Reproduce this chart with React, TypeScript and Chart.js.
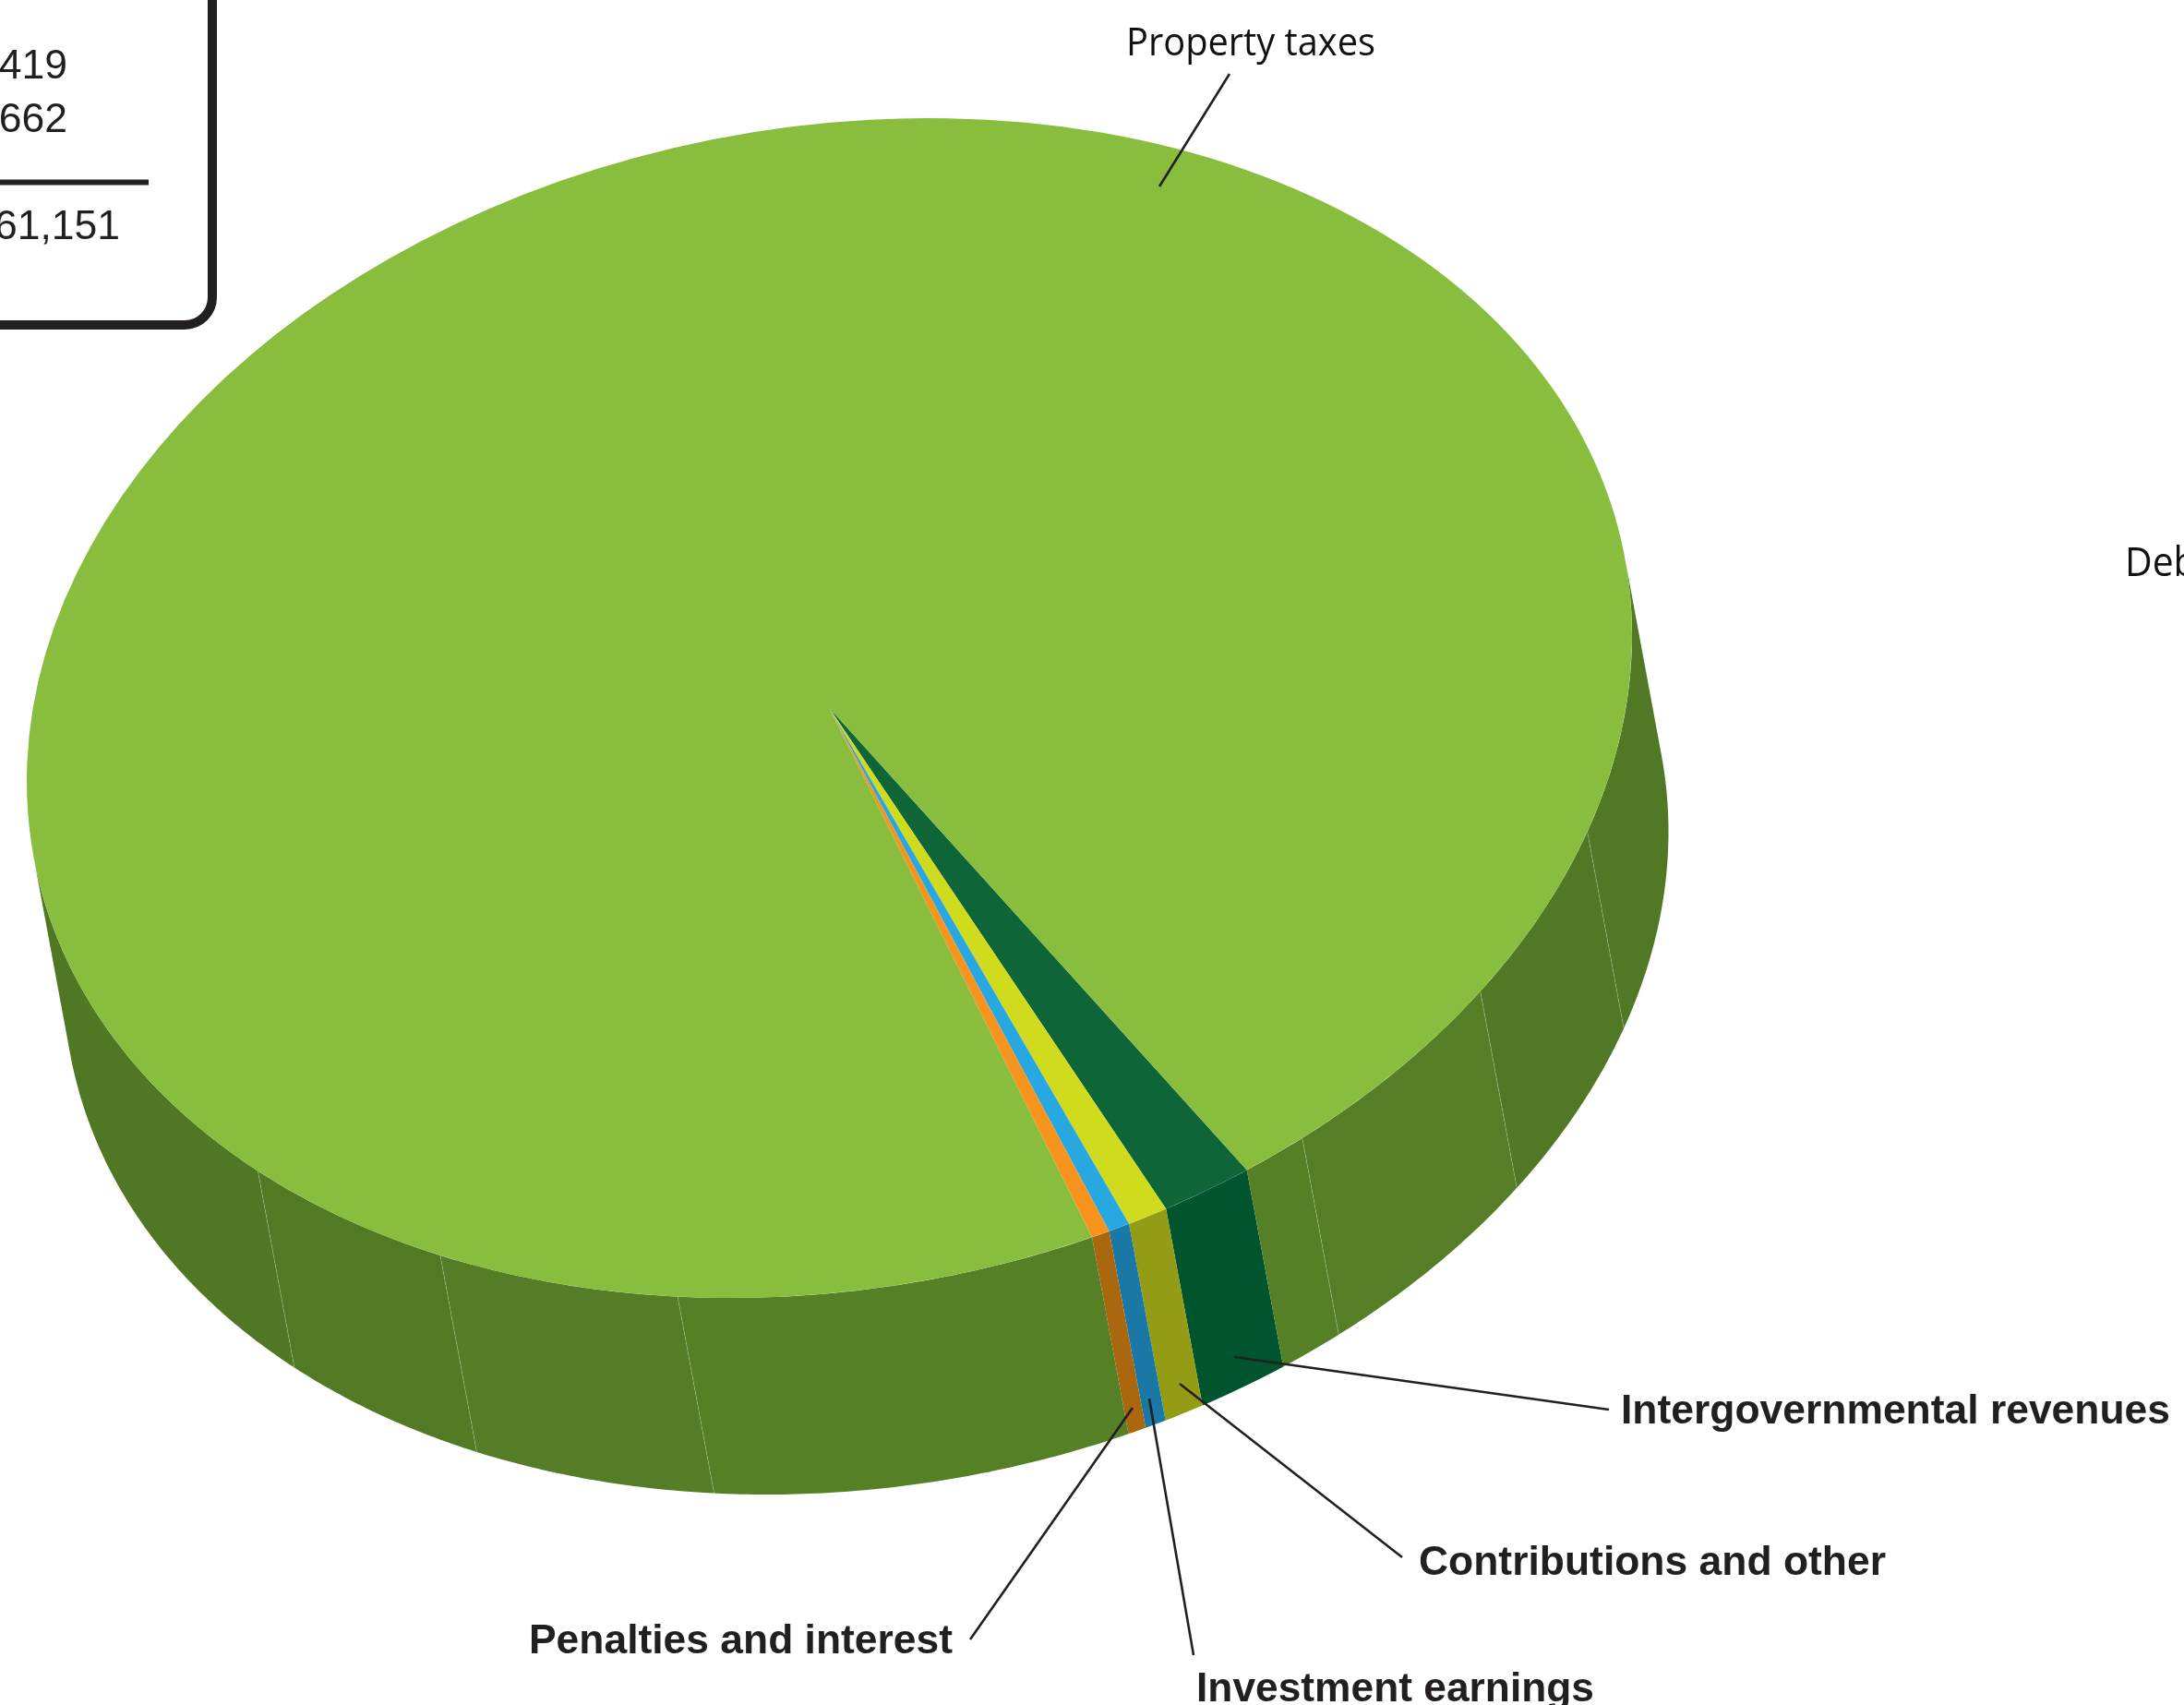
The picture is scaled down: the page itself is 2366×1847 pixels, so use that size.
import React, { useEffect, useRef } from "react";
import { Chart, registerables } from "chart.js";

Chart.register(...registerables);

const categories = [
  "Intergovernmental revenues",
  "Contributions and other",
  "Investment earnings",
  "Penalties and interest",
  "Property taxes",
];
const values = [1111, 489, 258, 221, 59072];
const tableFigures = ["419", "662", "61,151"];

const topColors = ["#0E6537", "#D1DB1D", "#27A8E0", "#F7941E", "#88BD3D"];
const wallColors = ["#00552E", "#939C14", "#1978A5", "#AA670D", "#547B25"];

const W = 2366;
const H = 1847;
const CX = 898.5;
const CY = 767;
const M = { a: 869.5, b: -79, d: 634.1 };
const DEPTH = { x: 39.5, y: 213 };
const ROTATION_DEG = 148.66;
const rad = (d: number) => (d * Math.PI) / 180;

const WALL_FROM = -7.6;
const WALL_TO = 172.4;
const propertyBands = [
  { from: -7.6, to: 19.2, color: "#507825" },
  { from: 19.2, to: 35.8, color: "#517825" },
  { from: 35.8, to: 53.9, color: "#567E27" },
  { from: 53.9, to: 100.9, color: "#568026" },
  { from: 100.9, to: 119.0, color: "#557C26" },
  { from: 119.0, to: 135.4, color: "#527A25" },
  { from: 135.4, to: 172.4, color: "#507724" },
];
const seams = [19.2, 35.8, 53.9, 100.9, 119.0, 135.4];

const rim = (deg: number) => {
  const c = Math.cos(rad(deg));
  const s = Math.sin(rad(deg));
  return { x: CX + M.a * c, y: CY + M.b * c + M.d * s };
};

const drawWall = (ctx: CanvasRenderingContext2D, from: number, to: number, color: string) => {
  const n = Math.max(2, Math.ceil((to - from) * 2));
  ctx.beginPath();
  for (let i = 0; i <= n; i++) {
    const p = rim(from + ((to - from) * i) / n);
    if (i === 0) ctx.moveTo(p.x, p.y);
    else ctx.lineTo(p.x, p.y);
  }
  for (let i = n; i >= 0; i--) {
    const p = rim(from + ((to - from) * i) / n);
    ctx.lineTo(p.x + DEPTH.x, p.y + DEPTH.y);
  }
  ctx.closePath();
  ctx.fillStyle = color;
  ctx.fill();
};

const INK = "#231F20";
const leaders = [
  { from: [1337, 1470], to: [1743, 1527] },
  { from: [1278, 1499], to: [1519, 1687] },
  { from: [1245, 1515], to: [1293, 1793] },
  { from: [1227, 1525], to: [1051, 1776] },
  { from: [1332, 80], to: [1256, 202] },
];
const labelPlacement = [
  { x: 1756, y: 1542, w: 595, font: "bold 44px 'Liberation Sans'", color: INK },
  { x: 1537, y: 1706, w: 506, font: "bold 44px 'Liberation Sans'", color: INK },
  { x: 1296, y: 1843, w: 431, font: "bold 44px 'Liberation Sans'", color: INK },
  { x: 573, y: 1791, w: 459, font: "bold 44px 'Liberation Sans'", color: INK },
  { x: 1220, y: 60, w: 270, font: "42px 'Open Sans'", color: "#111111" },
];

const fitText = (
  ctx: CanvasRenderingContext2D,
  text: string,
  x: number,
  y: number,
  w: number,
  font: string,
  color: string
) => {
  ctx.save();
  ctx.font = font;
  ctx.fillStyle = color;
  ctx.textBaseline = "alphabetic";
  ctx.textAlign = "left";
  const natural = ctx.measureText(text).width;
  ctx.translate(x, y);
  ctx.scale(w / natural, 1);
  ctx.fillText(text, 0, 0);
  ctx.restore();
};

const pie3d = {
  id: "pie3d",
  beforeDatasetsDraw(chart: any) {
    const ctx: CanvasRenderingContext2D = chart.ctx;
    const arcs = chart.getDatasetMeta(0).data;
    const clipDraw = (a0: number, a1: number, b0: number, b1: number, color: string) => {
      for (const k of [-1, 0, 1]) {
        const lo = Math.max(a0, b0 + 360 * k);
        const hi = Math.min(a1, b1 + 360 * k);
        if (hi > lo) drawWall(ctx, lo, hi, color);
      }
    };
    ctx.save();
    arcs.forEach((arc: any, i: number) => {
      const s = (arc.startAngle * 180) / Math.PI;
      const e = (arc.endAngle * 180) / Math.PI;
      if (categories[i] === "Property taxes") {
        propertyBands.forEach((b) => clipDraw(s, e, b.from, b.to, b.color));
      } else {
        clipDraw(s, e, WALL_FROM, WALL_TO, wallColors[i]);
      }
    });
    ctx.strokeStyle = "rgba(255,255,255,0.2)";
    ctx.lineWidth = 1;
    seams.forEach((deg) => {
      const p = rim(deg);
      ctx.beginPath();
      ctx.moveTo(p.x, p.y);
      ctx.lineTo(p.x + DEPTH.x, p.y + DEPTH.y);
      ctx.stroke();
    });
    ctx.restore();

    const first = arcs[0];
    const R = first.outerRadius;
    const a = M.a / R;
    const b = M.b / R;
    const d = M.d / R;
    ctx.save();
    ctx.transform(a, b, 0, d, CX - a * first.x, CY - b * first.x - d * first.y);
  },
  afterDatasetsDraw(chart: any) {
    chart.ctx.restore();
  },
  afterDraw(chart: any) {
    const ctx: CanvasRenderingContext2D = chart.ctx;
    ctx.save();
    ctx.strokeStyle = INK;
    ctx.lineWidth = 10;
    ctx.beginPath();
    ctx.moveTo(230, -10);
    ctx.lineTo(230, 322);
    ctx.arcTo(230, 352, 200, 352, 30);
    ctx.lineTo(-10, 352);
    ctx.stroke();
    ctx.lineWidth = 6;
    ctx.beginPath();
    ctx.moveTo(-10, 197.5);
    ctx.lineTo(161, 197.5);
    ctx.stroke();
    ctx.font = "44.5px 'Liberation Sans'";
    ctx.fillStyle = INK;
    ctx.textAlign = "right";
    ctx.fillText(tableFigures[0], 73, 85);
    ctx.fillText(tableFigures[1], 73, 143);
    ctx.fillText(tableFigures[2], 130, 259);

    ctx.lineWidth = 2.6;
    ctx.strokeStyle = INK;
    leaders.forEach((l) => {
      ctx.beginPath();
      ctx.moveTo(l.from[0], l.from[1]);
      ctx.lineTo(l.to[0], l.to[1]);
      ctx.stroke();
    });
    ctx.restore();

    categories.forEach((text, i) => {
      const p = labelPlacement[i];
      fitText(ctx, text, p.x, p.y, p.w, p.font, p.color);
    });
    ctx.save();
    ctx.font = "43px 'Open Sans'";
    ctx.fillStyle = "#111111";
    ctx.textAlign = "left";
    ctx.translate(2302, 624);
    ctx.scale(0.95, 1);
    ctx.fillText("Debt", 0, 0);
    ctx.restore();
  },
};

export default function App() {
  const ref = useRef<HTMLCanvasElement>(null);
  useEffect(() => {
    document.body.style.margin = "0";
    const chart = new Chart(ref.current as HTMLCanvasElement, {
      type: "pie",
      data: {
        labels: categories,
        datasets: [
          {
            data: values,
            backgroundColor: topColors,
            borderWidth: 0,
            clip: false,
          } as any,
        ],
      },
      options: {
        animation: false,
        responsive: false,
        devicePixelRatio: 1,
        rotation: ROTATION_DEG,
        plugins: { legend: { display: false }, tooltip: { enabled: false } },
      } as any,
      plugins: [pie3d],
    });
    return () => chart.destroy();
  }, []);
  return (
    <div style={{ position: "absolute", left: 0, top: 0, width: W, height: H, overflow: "hidden", background: "#fff" }}>
      <canvas ref={ref} width={W} height={H} style={{ display: "block", width: W, height: H }} />
    </div>
  );
}
